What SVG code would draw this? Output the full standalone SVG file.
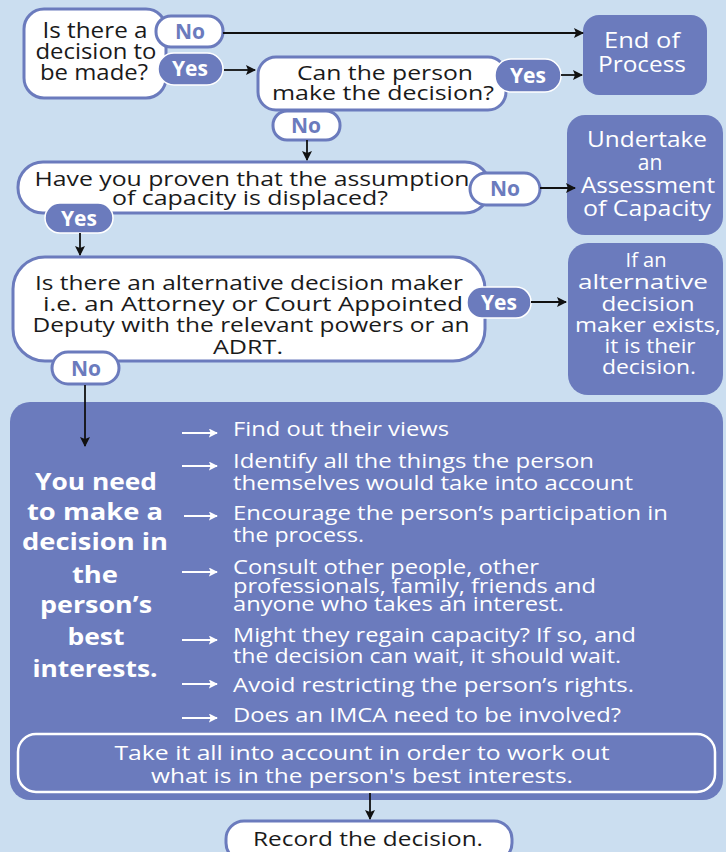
<svg xmlns="http://www.w3.org/2000/svg" width="726" height="852" viewBox="0 0 726 852">
<defs>
<marker id="ah" viewBox="0 0 10 10" refX="9" refY="5" markerWidth="10" markerHeight="10" markerUnits="userSpaceOnUse" orient="auto"><path d="M0,0 L10,5 L0,10 L2,5 Z" fill="#111"/></marker>
<marker id="wh" viewBox="0 0 10 10" refX="9" refY="5" markerWidth="9" markerHeight="9" markerUnits="userSpaceOnUse" orient="auto"><path d="M0,0 L10,5 L0,10 L2,5 Z" fill="#fff"/></marker>
<style>
.bg{fill:#cbdef0}
.q{fill:#fff;stroke:#6b7bbd;stroke-width:3}
.d{fill:#6b7bbd}
.pw{fill:#fff;stroke:#6b7bbd;stroke-width:3}
.pb{fill:#6b7bbd;stroke:#fff;stroke-width:1.5}
text{font-family:"Open Sans","Noto Sans",sans-serif}
.t{font-size:19.5px;fill:#1a1a1a;text-anchor:middle}
.w{font-size:20px;fill:#fff;text-anchor:middle}
.lb{font-size:21px;font-weight:bold;text-anchor:middle}
.nb{fill:#6b7bbd}
.yb{fill:#fff}
.li{font-size:19.5px;fill:#fff}
.big{font-size:24px;font-weight:bold;fill:#fff;text-anchor:middle}
.c{stroke:#111;stroke-width:1.8;fill:none}
.cw{stroke:#fff;stroke-width:1.8;fill:none}
</style>
</defs>
<rect class="bg" x="0" y="0" width="726" height="852"/>

<g id="q1">
<rect class="q" x="24" y="9" width="142" height="89" rx="20"/>
<text class="t" x="95" y="38" style="font-size:21px" textLength="105" lengthAdjust="spacingAndGlyphs">Is there a</text>
<text class="t" x="96" y="59" style="font-size:21px" textLength="121" lengthAdjust="spacingAndGlyphs">decision to</text>
<text class="t" x="94" y="80" style="font-size:21px" textLength="108" lengthAdjust="spacingAndGlyphs">be made?</text>
</g>
<g id="q1-no">
<rect class="pw" x="156" y="16" width="67" height="31" rx="15"/>
<text class="lb nb" x="190" y="39">No</text>
</g>
<g id="q1-yes">
<rect class="pb" x="158" y="53" width="65" height="32" rx="16"/>
<text class="lb yb" x="190" y="76">Yes</text>
</g>

<g id="q2">
<rect class="q" x="258" y="57" width="248" height="53" rx="18"/>
<text class="t" x="385" y="80" textLength="176" lengthAdjust="spacingAndGlyphs">Can the person</text>
<text class="t" x="383" y="100" textLength="222" lengthAdjust="spacingAndGlyphs">make the decision?</text>
</g>
<g id="q2-yes">
<rect class="pb" x="495" y="59" width="66" height="33" rx="16"/>
<text class="lb yb" x="528" y="83">Yes</text>
</g>
<g id="q2-no">
<rect class="pw" x="273" y="111" width="67" height="29" rx="14"/>
<text class="lb nb" x="306" y="133">No</text>
</g>

<g id="end">
<rect class="d" x="583" y="15" width="124" height="80" rx="16"/>
<text class="w" x="642" y="48" style="font-size:21px" textLength="76" lengthAdjust="spacingAndGlyphs">End of</text>
<text class="w" x="642" y="72" style="font-size:21px" textLength="88" lengthAdjust="spacingAndGlyphs">Process</text>
</g>

<g id="q3">
<rect class="q" x="18" y="162" width="472" height="51" rx="25"/>
<text class="t" x="252" y="186" textLength="435" lengthAdjust="spacingAndGlyphs">Have you proven that the assumption</text>
<text class="t" x="250" y="205" textLength="276" lengthAdjust="spacingAndGlyphs">of capacity is displaced?</text>
</g>
<g id="q3-no">
<rect class="pw" x="470" y="173" width="70" height="32" rx="16"/>
<text class="lb nb" x="505" y="196">No</text>
</g>
<g id="q3-yes">
<rect class="pb" x="45" y="203" width="68" height="30" rx="15"/>
<text class="lb yb" x="79" y="226">Yes</text>
</g>

<g id="assess">
<rect class="d" x="567" y="115" width="156" height="120" rx="18"/>
<text class="w" x="647" y="147" style="font-size:21px" textLength="120" lengthAdjust="spacingAndGlyphs">Undertake</text>
<text class="w" x="650" y="170" style="font-size:21px">an</text>
<text class="w" x="648" y="193" style="font-size:21px" textLength="134" lengthAdjust="spacingAndGlyphs">Assessment</text>
<text class="w" x="647" y="216" style="font-size:21px" textLength="128" lengthAdjust="spacingAndGlyphs">of Capacity</text>
</g>

<g id="q4">
<rect class="q" x="13" y="257" width="472" height="104" rx="32"/>
<text class="t" x="249" y="290" textLength="428" lengthAdjust="spacingAndGlyphs">Is there an alternative decision maker</text>
<text class="t" x="253" y="311" textLength="420" lengthAdjust="spacingAndGlyphs">i.e. an Attorney or Court Appointed</text>
<text class="t" x="251" y="332" textLength="437" lengthAdjust="spacingAndGlyphs">Deputy with the relevant powers or an</text>
<text class="t" x="248" y="354" textLength="70" lengthAdjust="spacingAndGlyphs">ADRT.</text>
</g>
<g id="q4-yes">
<rect class="pb" x="467" y="287" width="64" height="31" rx="15"/>
<text class="lb yb" x="499" y="310">Yes</text>
</g>
<g id="q4-no">
<rect class="pw" x="52" y="352" width="67" height="32" rx="16"/>
<text class="lb nb" x="86" y="376">No</text>
</g>

<g id="alt">
<rect class="d" x="568" y="243" width="155" height="152" rx="20"/>
<text class="w" x="646" y="267">If an</text>
<text class="w" x="643" y="289" textLength="130" lengthAdjust="spacingAndGlyphs">alternative</text>
<text class="w" x="648" y="311" textLength="93" lengthAdjust="spacingAndGlyphs">decision</text>
<text class="w" x="648" y="332" textLength="146" lengthAdjust="spacingAndGlyphs">maker exists,</text>
<text class="w" x="650" y="353" textLength="91" lengthAdjust="spacingAndGlyphs">it is their</text>
<text class="w" x="649" y="374" textLength="94" lengthAdjust="spacingAndGlyphs">decision.</text>
</g>

<g id="best">
<rect class="d" x="10" y="402" width="713" height="398" rx="20"/>
<text class="big" x="96" y="490" textLength="122" lengthAdjust="spacingAndGlyphs">You need</text>
<text class="big" x="95" y="520" textLength="136" lengthAdjust="spacingAndGlyphs">to make a</text>
<text class="big" x="95" y="550" textLength="146" lengthAdjust="spacingAndGlyphs">decision in</text>
<text class="big" x="95" y="583" textLength="46" lengthAdjust="spacingAndGlyphs">the</text>
<text class="big" x="96" y="613" textLength="112" lengthAdjust="spacingAndGlyphs">person’s</text>
<text class="big" x="96" y="645" textLength="57" lengthAdjust="spacingAndGlyphs">best</text>
<text class="big" x="95" y="677" textLength="125" lengthAdjust="spacingAndGlyphs">interests.</text>
<g>
<line class="cw" x1="182" y1="433" x2="217" y2="433" marker-end="url(#wh)"/>
<line class="cw" x1="182" y1="466" x2="217" y2="466" marker-end="url(#wh)"/>
<line class="cw" x1="184" y1="516" x2="217" y2="516" marker-end="url(#wh)"/>
<line class="cw" x1="182" y1="572" x2="217" y2="572" marker-end="url(#wh)"/>
<line class="cw" x1="182" y1="640" x2="217" y2="640" marker-end="url(#wh)"/>
<line class="cw" x1="182" y1="684" x2="217" y2="684" marker-end="url(#wh)"/>
<line class="cw" x1="182" y1="718" x2="217" y2="718" marker-end="url(#wh)"/>
</g>
<text class="li" x="233" y="436" textLength="216" lengthAdjust="spacingAndGlyphs">Find out their views</text>
<text class="li" x="233" y="468" textLength="361" lengthAdjust="spacingAndGlyphs">Identify all the things the person</text>
<text class="li" x="233" y="490" textLength="400" lengthAdjust="spacingAndGlyphs">themselves would take into account</text>
<text class="li" x="233" y="520" textLength="435" lengthAdjust="spacingAndGlyphs">Encourage the person’s participation in</text>
<text class="li" x="233" y="542" textLength="131" lengthAdjust="spacingAndGlyphs">the process.</text>
<text class="li" x="233" y="574" textLength="306" lengthAdjust="spacingAndGlyphs">Consult other people, other</text>
<text class="li" x="233" y="593" textLength="363" lengthAdjust="spacingAndGlyphs">professionals, family, friends and</text>
<text class="li" x="233" y="611" textLength="331" lengthAdjust="spacingAndGlyphs">anyone who takes an interest.</text>
<text class="li" x="233" y="642" textLength="403" lengthAdjust="spacingAndGlyphs">Might they regain capacity? If so, and</text>
<text class="li" x="233" y="663" textLength="388" lengthAdjust="spacingAndGlyphs">the decision can wait, it should wait.</text>
<text class="li" x="233" y="692" textLength="401" lengthAdjust="spacingAndGlyphs">Avoid restricting the person’s rights.</text>
<text class="li" x="233" y="722" textLength="388" lengthAdjust="spacingAndGlyphs">Does an IMCA need to be involved?</text>
</g>

<g id="take">
<rect x="18" y="734" width="697" height="58" rx="18" fill="#6b7bbd" stroke="#fff" stroke-width="2.5"/>
<text class="w" x="362" y="760" textLength="495" lengthAdjust="spacingAndGlyphs">Take it all into account in order to work out</text>
<text class="w" x="362" y="783" textLength="422" lengthAdjust="spacingAndGlyphs">what is in the person's best interests.</text>
</g>

<g id="record">
<rect class="q" x="226" y="821" width="286" height="40" rx="18"/>
<text class="t" x="368" y="846" textLength="230" lengthAdjust="spacingAndGlyphs">Record the decision.</text>
</g>

<g id="connectors">
<line class="c" x1="223" y1="33" x2="583" y2="33" marker-end="url(#ah)"/>
<line class="c" x1="224" y1="70" x2="255" y2="70" marker-end="url(#ah)"/>
<line class="c" x1="561" y1="75" x2="582" y2="75" marker-end="url(#ah)"/>
<line class="c" x1="307" y1="140" x2="307" y2="160" marker-end="url(#ah)"/>
<line class="c" x1="540" y1="188" x2="575" y2="188" marker-end="url(#ah)"/>
<line class="c" x1="80" y1="233" x2="80" y2="255" marker-end="url(#ah)"/>
<line class="c" x1="531" y1="302" x2="566" y2="302" marker-end="url(#ah)"/>
<line class="c" x1="85" y1="385" x2="85" y2="446" marker-end="url(#ah)"/>
<line class="c" x1="370" y1="793" x2="370" y2="819" marker-end="url(#ah)"/>
</g>
</svg>
